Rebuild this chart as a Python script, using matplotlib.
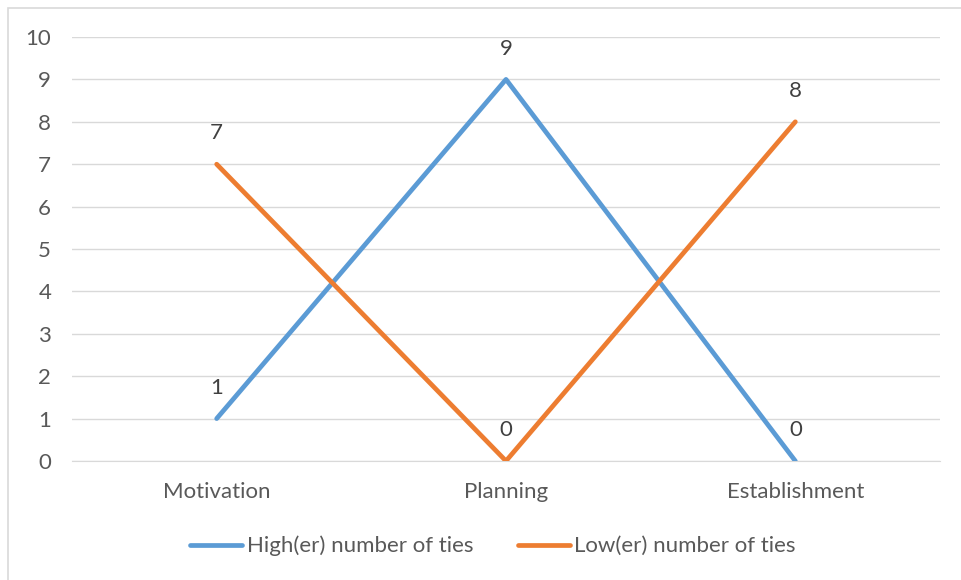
import matplotlib
matplotlib.use("Agg")
import matplotlib.pyplot as plt
from matplotlib.patches import Rectangle

categories = ["Motivation", "Planning", "Establishment"]
high_ties = [1, 9, 0]
low_ties = [7, 0, 8]
series_names = ["High(er) number of ties", "Low(er) number of ties"]
y_ticks = list(range(0, 11))

BLUE = "#5b9bd5"
ORANGE = "#ed7d31"
TEXT = "#595959"
GRID = "#d9d9d9"
FS = 16

plt.rcParams["font.family"] = ["Lato", "DejaVu Sans"]

fig = plt.figure(figsize=(9.61, 5.80), dpi=100)
fig.patch.set_facecolor("white")

# chart-area border
fig.patches.append(Rectangle((8 / 961, -0.1), 1.1, 1 - 8 / 580 + 0.1,
                             transform=fig.transFigure, fill=False,
                             edgecolor=GRID, linewidth=1.2))

ax = fig.add_axes([72 / 961, 1 - 461 / 580, (940 - 72) / 961, (461 - 37) / 580])
x = list(range(len(categories)))

for vals, color, name in [(high_ties, BLUE, series_names[0]), (low_ties, ORANGE, series_names[1])]:
    ax.plot(x, vals, color=color, linewidth=3.4, solid_capstyle="round", label=name, zorder=3)
    for xi, v in zip(x, vals):
        ax.annotate(str(v), (xi, v), xytext=(0, 15), textcoords="offset points",
                    ha="center", va="bottom", fontsize=FS, color="#404040")

ax.set_xlim(-0.5, len(categories) - 0.5)
ax.set_ylim(0, 10)
ax.set_yticks(y_ticks)
ax.set_xticks(x)
ax.set_xticklabels(categories)
ax.grid(axis="y", color=GRID, linewidth=1)
ax.set_axisbelow(True)
for s in ["top", "right", "left"]:
    ax.spines[s].set_visible(False)
ax.spines["bottom"].set_color(GRID)
ax.tick_params(axis="both", length=0, labelsize=FS, labelcolor=TEXT)
ax.tick_params(axis="y", pad=15)
ax.tick_params(axis="x", pad=15)

leg = fig.legend(loc="center", bbox_to_anchor=(493 / 961, 1 - 546 / 580), ncol=2, frameon=False,
                 fontsize=FS, handlelength=2.35, handletextpad=0.2, columnspacing=2.0)
for t in leg.get_texts():
    t.set_color(TEXT)

fig.savefig("out.png", dpi=100, facecolor="white")
